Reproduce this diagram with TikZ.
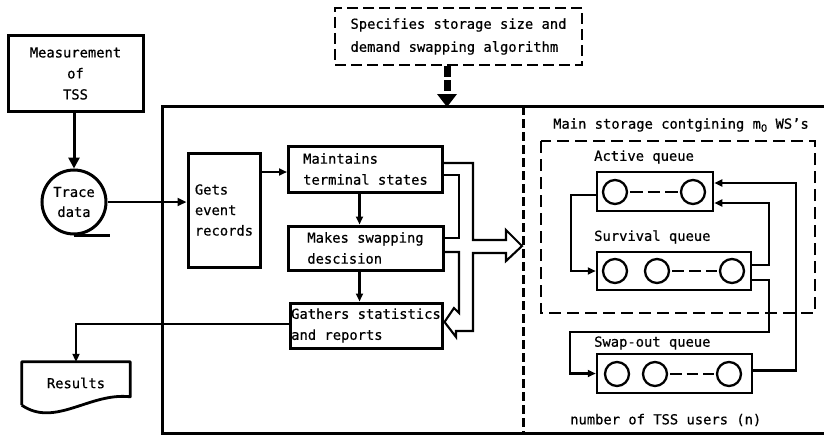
\documentclass[tikz,border=0pt]{standalone}
\usepackage{fontspec}
\setmainfont{DejaVu Sans Mono}[FakeBold=0.6]
\newfontfamily\subfont{DejaVu Sans}[FakeBold=0.6]
\usetikzlibrary{arrows.meta,calc}

\begin{document}
\begin{tikzpicture}[x=1pt,y=-1pt,
  every node/.style={font=\fontsize{13.8}{21}\selectfont},
  box/.style={draw, line width=3pt, inner sep=1pt, align=left},
  qbox/.style={draw, line width=2.5pt, inner sep=0pt},
  slot/.style={circle, draw, line width=2.3pt, minimum size=24pt, inner sep=0pt},
  gap/.style={line width=2.2pt, dash pattern=on 12pt off 5pt, shorten <=2pt, shorten >=2pt},
  lbl/.style={anchor=west, inner sep=0pt},
  conn/.style={line width=2.3pt, -{Triangle[length=8pt,width=7pt]}},
  bigconn/.style={line width=3pt, -{Triangle[length=11pt,width=11pt]}},
  wire/.style={line width=2.1pt, line join=miter}]
\useasboundingbox (0,0) rectangle (824,436);

% ---- simulator frame and divider ----
\draw[line width=3pt] (824,106) -- (162,106) -- (162,433) -- (824,433);
\draw[line width=3pt, dash pattern=on 9pt off 4pt] (523,106) -- (523,433);

% ---- input side ----
\node[box, align=center, minimum width=135pt, minimum height=75pt] (meas) at (75.5,73.5)
  {Measurement\\of\\TSS};
\node[circle, draw, line width=3pt, minimum size=64pt, inner sep=0pt, align=center,
  font=\fontsize{13.8}{20}\selectfont] (trace) at (74,202) {Trace\\data};
\draw[line width=3pt] (trace.south) -- ++(36,0);
\draw[bigconn] (meas.south -| trace.north) -- (trace.north);

% ---- parameter box ----
\node[draw, line width=2.6pt, dash pattern=on 11pt off 5pt, inner sep=1pt, align=left,
  minimum width=247pt, minimum height=57pt, font=\fontsize{13.8}{23}\selectfont]
  (spec) at (458.5,36.5) {Specifies storage size and\\demand swapping algorithm};
\coordinate (specend) at (447,93);
\draw[line width=7pt, dash pattern=on 11pt off 3pt] (spec.south -| specend) -- (specend);
\fill (437,94) -- (457,94) -- (447,107) -- cycle;

% ---- simulator steps ----
\node[box, minimum width=72pt, minimum height=114pt, font=\fontsize{13.8}{20.5}\selectfont]
  (gets) at (224,210) {Gets\\event\\records};
\node[box, minimum width=154pt, minimum height=46pt] (maint) at (365.5,169)
  {Maintains\\ terminal states};
\node[box, minimum width=155pt, minimum height=44pt] (makes) at (365.5,248)
  {Makes swapping\\ descision};
\node[box, minimum width=152pt, minimum height=45pt, inner xsep=1pt] (gath) at (366,325.5)
  {Gathers statistics\\and reports};

\draw[conn, -{Triangle[length=9pt,width=8pt]}] (trace.east) -- (gets.west |- trace.east);
\draw[conn] ($(gets.east)+(0,-38)$) -- (maint.west |- {$(gets.east)+(0,-38)$});
\draw[conn] ($(maint.south)+(-6,0)$) -- ($(makes.north)+(-6,0)$);
\draw[conn] ($(makes.south)+(-6,0)$) -- ($(gath.north)+(-6.5,0)$);

% ---- results ----
\node[minimum width=108pt, minimum height=42pt, inner sep=0pt] (res) at (76,383) {Results};
\draw[line width=2.8pt, line join=round]
  (res.south west) ++(0,1) -- (res.north west) -- (res.north east) -- ++(0,35)
  .. controls (90,392) and (55,428) .. ($(res.south west)+(0,1)$);
\draw[conn] ($(gath.west)+(0,-1.5)$) -| (res.north);

% ---- hollow distribution arrow ----
\coordinate (busTip) at (522,246);
\draw[wire] ($(maint.east)+(0,-6)$) -- (473,163) -- (473,240) -- (506,240) -- (506,230)
  -- (busTip) -- (506,261) -- (506,253) -- (473,253) -- (473,331) -- (456,331)
  -- (456,337) -- ($(gath.east)+(1,-3.5)$);
\draw[wire] ($(maint.east)+(0,6)$) -- (459,175) -- (459,238) -- ($(makes.east)+(0,-10)$);
\draw[wire] ($(makes.east)+(0,4)$) -- (459,252) -- (459,313) -- (454,308)
  -- ($(gath.east)+(1,-3.5)$);

% ---- main storage ----
\node[lbl] (mainlbl) at (553,125)
  {Main storage contgining m\lower3pt\hbox{\subfont\fontsize{10}{10}\selectfont 0} WS’s};
\draw[line width=2.2pt, dash pattern=on 12pt off 6pt] (541,141) rectangle (815,313);

\node[lbl] (actlbl) at (594,157) {Active queue};
\node[qbox, minimum width=116pt, minimum height=39pt] (act) at (655,191.5) {};
\node[slot] (a1) at (615,192) {};
\node[slot] (a2) at (693,192) {};
\draw[gap, dash pattern=on 12.5pt off 5pt] (a1.east) -- (a2.west);

\node[lbl] (survlbl) at (594,237) {Survival queue};
\node[qbox, minimum width=154pt, minimum height=38pt] (surv) at (674,271) {};
\node[slot] (s1) at (615,271) {};
\node[slot] (s2) at (657,271) {};
\node[slot] (s3) at (732,271) {};
\draw[gap] (s2.east) -- (s3.west);

\node[lbl] (swaplbl) at (594,343) {Swap-out queue};
\node[qbox, minimum width=155pt, minimum height=39pt] (swap) at (674.5,373.5) {};
\node[slot] (w1) at (617,374) {};
\node[slot] (w2) at (655,374) {};
\node[slot] (w3) at (729,374) {};
\draw[gap, dash pattern=on 11.5pt off 5pt] (w2.east) -- (w3.west);

\node[lbl] (users) at (570,420) {number of TSS users (n)};

% ---- queue transitions ----
\draw[conn] ($(act.west)+(0,3.5)$) -- ++(-25,0) |- (surv.west);
\draw[conn] ($(surv.east)+(0,-6)$) -- ++(17,0) |- ($(act.east)+(0,11.5)$);
\draw[conn] ($(swap.east)+(0,-3)$) -- ++(43,0) |- ($(act.east)+(0,-8.5)$);
\draw[conn] ($(surv.east)+(0,9)$) -- ++(17,0) -- ++(0,52) -- ++(-199,0) |- (swap.west);
\end{tikzpicture}
\end{document}
